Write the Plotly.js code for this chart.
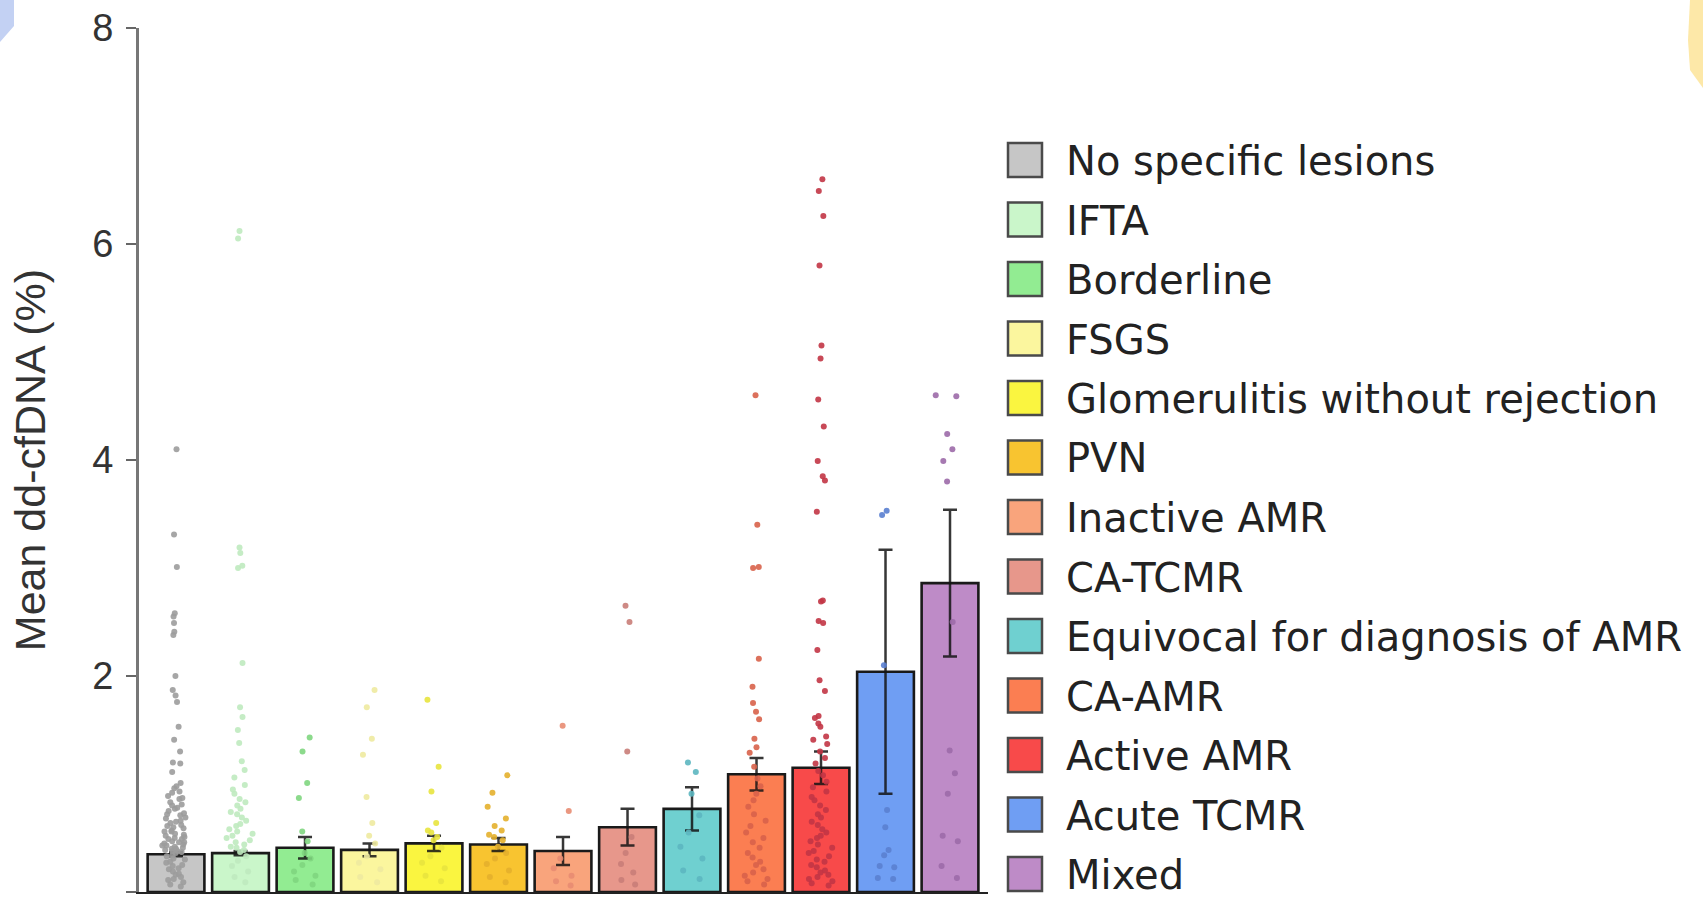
<!DOCTYPE html>
<html>
<head>
<meta charset="utf-8">
<script src="https://cdn.plot.ly/plotly-3.0.1.min.js"></script>
<style>
html, body { margin: 0; padding: 0; background: #ffffff; }
#chart { width: 1703px; height: 907px; }
</style>
</head>
<body>
<div id="chart"></div>
<script>
// ---------------- DATA ----------------
const categories = [
  "No specific lesions", "IFTA", "Borderline", "FSGS",
  "Glomerulitis without rejection", "PVN", "Inactive AMR", "CA-TCMR",
  "Equivocal for diagnosis of AMR", "CA-AMR", "Active AMR", "Acute TCMR", "Mixed"
];
const meanValues = [0.35, 0.36, 0.41, 0.39, 0.45, 0.44, 0.38, 0.60, 0.77, 1.09, 1.15, 2.04, 2.86];
const semValues  = [0.02, 0.02, 0.10, 0.06, 0.07, 0.06, 0.13, 0.17, 0.20, 0.15, 0.15, 1.13, 0.68];

const ptsNoSpecific = [4.10, 3.31, 3.01, 2.58, 2.55, 2.49, 2.41, 2.38, 2.00, 1.87, 1.82, 1.76, 1.53, 1.41,
  1.30, 1.20, 1.19, 1.11, 1.01, 0.98, 0.96, 0.93, 0.92, 0.89, 0.87, 0.86, 0.83, 0.81, 0.80, 0.78, 0.77,
  0.75, 0.73, 0.72, 0.71, 0.69, 0.68, 0.66, 0.65, 0.64, 0.62, 0.61, 0.60, 0.59, 0.57, 0.56, 0.56, 0.54,
  0.53, 0.52, 0.51, 0.50, 0.49, 0.49, 0.47, 0.46, 0.46, 0.45, 0.44, 0.43, 0.43, 0.42, 0.41, 0.40, 0.40,
  0.39, 0.38, 0.38, 0.37, 0.36, 0.34, 0.33, 0.31, 0.30, 0.28, 0.27, 0.25, 0.24, 0.22, 0.21, 0.19, 0.17,
  0.16, 0.14, 0.12, 0.11, 0.09, 0.07, 0.05];
const ptsIFTA = [6.12, 6.05, 3.19, 3.14, 3.02, 3.00, 2.12, 1.71, 1.62, 1.50, 1.38, 1.21, 1.13, 1.06, 0.99,
  0.95, 0.91, 0.86, 0.83, 0.80, 0.77, 0.74, 0.72, 0.69, 0.66, 0.63, 0.61, 0.58, 0.56, 0.54, 0.52, 0.50,
  0.48, 0.46, 0.44, 0.42, 0.41, 0.39, 0.37, 0.33, 0.29, 0.24, 0.19, 0.14, 0.09];
const ptsBorderline = [1.43, 1.30, 1.01, 0.87, 0.56, 0.47, 0.36, 0.31, 0.25, 0.19, 0.15, 0.11, 0.07];
const ptsFSGS = [1.87, 1.71, 1.42, 1.27, 0.88, 0.64, 0.52, 0.45, 0.33, 0.27, 0.21, 0.14, 0.09];
const ptsGlomerulitis = [1.78, 1.16, 0.93, 0.64, 0.57, 0.55, 0.51, 0.48, 0.41, 0.33, 0.27, 0.22, 0.15, 0.10];
const ptsPVN = [1.08, 0.92, 0.79, 0.68, 0.61, 0.57, 0.53, 0.51, 0.48, 0.42, 0.36, 0.31, 0.26, 0.20, 0.14, 0.09];
const ptsInactiveAMR = [1.54, 0.75, 0.31, 0.22, 0.15, 0.10, 0.06];
const ptsCATCMR = [2.65, 2.50, 1.30, 0.51, 0.36, 0.26, 0.18, 0.11, 0.07];
const ptsEquivocal = [1.20, 1.11, 0.91, 0.71, 0.55, 0.42, 0.31, 0.20, 0.12];
const ptsCAAMR = [4.60, 3.40, 3.01, 3.00, 2.16, 1.90, 1.75, 1.67, 1.60, 1.42, 1.34, 1.29, 1.16, 1.05, 0.98,
  0.91, 0.85, 0.79, 0.72, 0.66, 0.61, 0.55, 0.50, 0.46, 0.41, 0.36, 0.32, 0.28, 0.25, 0.21, 0.18, 0.15,
  0.12, 0.10, 0.07];
const ptsActiveAMR = [6.60, 6.49, 6.26, 5.80, 5.06, 4.94, 4.56, 4.31, 3.99, 3.85, 3.81, 3.52, 2.70, 2.69,
  2.51, 2.49, 2.24, 1.96, 1.86, 1.63, 1.61, 1.56, 1.53, 1.44, 1.41, 1.37, 1.30, 1.24, 1.19, 1.12, 1.08,
  1.02, 0.97, 0.93, 0.88, 0.85, 0.80, 0.76, 0.72, 0.69, 0.65, 0.62, 0.58, 0.55, 0.52, 0.50, 0.47, 0.44,
  0.41, 0.38, 0.36, 0.33, 0.30, 0.28, 0.25, 0.23, 0.20, 0.18, 0.16, 0.14, 0.12, 0.10, 0.08, 0.06];
const ptsAcuteTCMR = [3.53, 3.49, 2.10, 0.76, 0.60, 0.39, 0.34, 0.24, 0.23, 0.13, 0.12];
const ptsMixed = [4.60, 4.59, 4.24, 4.10, 3.99, 3.80, 2.50, 1.31, 1.10, 0.91, 0.52, 0.47, 0.24, 0.13];

// ---------------- STYLES ----------------
const barColors = ["#c6c6c6", "#caf6ca", "#92ec92", "#fbf69e", "#faf540", "#f8c430", "#f9a47c",
  "#e7978b", "#6fd0d0", "#fb7e52", "#f84a4a", "#6f9ef3", "#be8bc7"];
const pointColors = ["#9c9c9c", "#bfeabf", "#7fd67f", "#eeeaa0", "#e8e43e", "#e4b02c", "#e88c72",
  "#c97d78", "#5cb6c0", "#d8624a", "#c23545", "#5a80d0", "#9c6aa8"];

const pointSets = [ptsNoSpecific, ptsIFTA, ptsBorderline, ptsFSGS, ptsGlomerulitis, ptsPVN,
  ptsInactiveAMR, ptsCATCMR, ptsEquivocal, ptsCAAMR, ptsActiveAMR, ptsAcuteTCMR, ptsMixed];

// ---------------- TRACES ----------------
const traces = [];
traces.push({
  type: "bar",
  x: categories,
  y: meanValues,
  width: 0.88,
  marker: { color: barColors, line: { color: "#1a1a1a", width: 2.6 } },
  error_y: { type: "data", array: semValues, visible: true, color: "rgba(20,20,20,0.85)", thickness: 2.5, width: 7 },
  showlegend: false,
  hoverinfo: "x+y"
});
pointSets.forEach(function (pts, i) {
  traces.push({
    type: "box",
    x: pts.map(function () { return categories[i]; }),
    y: pts,
    boxpoints: "all",
    jitter: 1,
    pointpos: 0,
    fillcolor: "rgba(0,0,0,0)",
    line: { color: "rgba(0,0,0,0)", width: 0 },
    whiskerwidth: 0,
    marker: { color: pointColors[i], size: 6, opacity: 0.9 },
    showlegend: false,
    hoverinfo: "y"
  });
});

// ---------------- LAYOUT ----------------
const L = 139, R = 988, T = 28, B = 892;
function px(x) { return (x - L) / (R - L); }
function py(y) { return (B - y) / (B - T); }

const shapes = [];
const annotations = [];
categories.forEach(function (c, i) {
  const cy = 160 + i * 59.5;
  shapes.push({
    type: "rect", xref: "paper", yref: "paper",
    x0: px(1008), x1: px(1042), y0: py(cy + 17), y1: py(cy - 17),
    fillcolor: barColors[i], line: { color: "#4a4a4a", width: 2.5 }
  });
  annotations.push({
    xref: "paper", yref: "paper", x: px(1064), y: py(cy + 1),
    xanchor: "left", yanchor: "middle", showarrow: false, text: c,
    font: { family: "DejaVu Sans, Verdana, sans-serif", size: 40, color: "#222222" }
  });
});
// decorative corner marks of the source page
shapes.push({
  type: "path", xref: "paper", yref: "paper", layer: "below",
  path: "M" + px(0) + "," + py(0) + " L" + px(14) + "," + py(0) + " L" + px(14) + "," + py(26) + " L" + px(0) + "," + py(42) + " Z",
  fillcolor: "#c3d1f3", line: { width: 0 }
});
shapes.push({
  type: "path", xref: "paper", yref: "paper", layer: "below",
  path: "M" + px(1703) + "," + py(0) + " L" + px(1690) + "," + py(0) + " L" + px(1688) + "," + py(40) + " L" + px(1690) + "," + py(70) + " L" + px(1703) + "," + py(88) + " Z",
  fillcolor: "#fde8a8", line: { width: 0 }
});

const layout = {
  width: 1703, height: 907,
  margin: { l: L, r: 1703 - R, t: T, b: 907 - B, pad: 0 },
  paper_bgcolor: "#ffffff", plot_bgcolor: "#ffffff",
  showlegend: false,
  boxmode: "overlay",
  boxgap: 0.35,
  bargap: 0.12,
  xaxis: {
    type: "category",
    categoryorder: "array",
    categoryarray: categories,
    range: [-0.574, 12.589],
    showticklabels: false, ticks: "",
    showline: true, linecolor: "#222222", linewidth: 2,
    showgrid: false, zeroline: false, fixedrange: true
  },
  yaxis: {
    range: [0, 8],
    tickvals: [0, 2, 4, 6, 8],
    ticktext: ["0", "2", "4", "6", "8"],
    ticks: "outside", ticklen: 10, tickwidth: 2.5, tickcolor: "#666666",
    ticklabelstandoff: 5,
    showline: true, linecolor: "#777777", linewidth: 3,
    showgrid: false, zeroline: false,
    tickfont: { family: "Liberation Sans, Arial, sans-serif", size: 38, color: "#333333" },
    title: { text: "Mean dd-cfDNA (%)", standoff: 34,
      font: { family: "Liberation Sans, Arial, sans-serif", size: 43, color: "#333333" } },
    fixedrange: true
  },
  shapes: shapes,
  annotations: annotations
};

Plotly.newPlot("chart", traces, layout, { displayModeBar: false, staticPlot: true });
</script>
</body>
</html>
